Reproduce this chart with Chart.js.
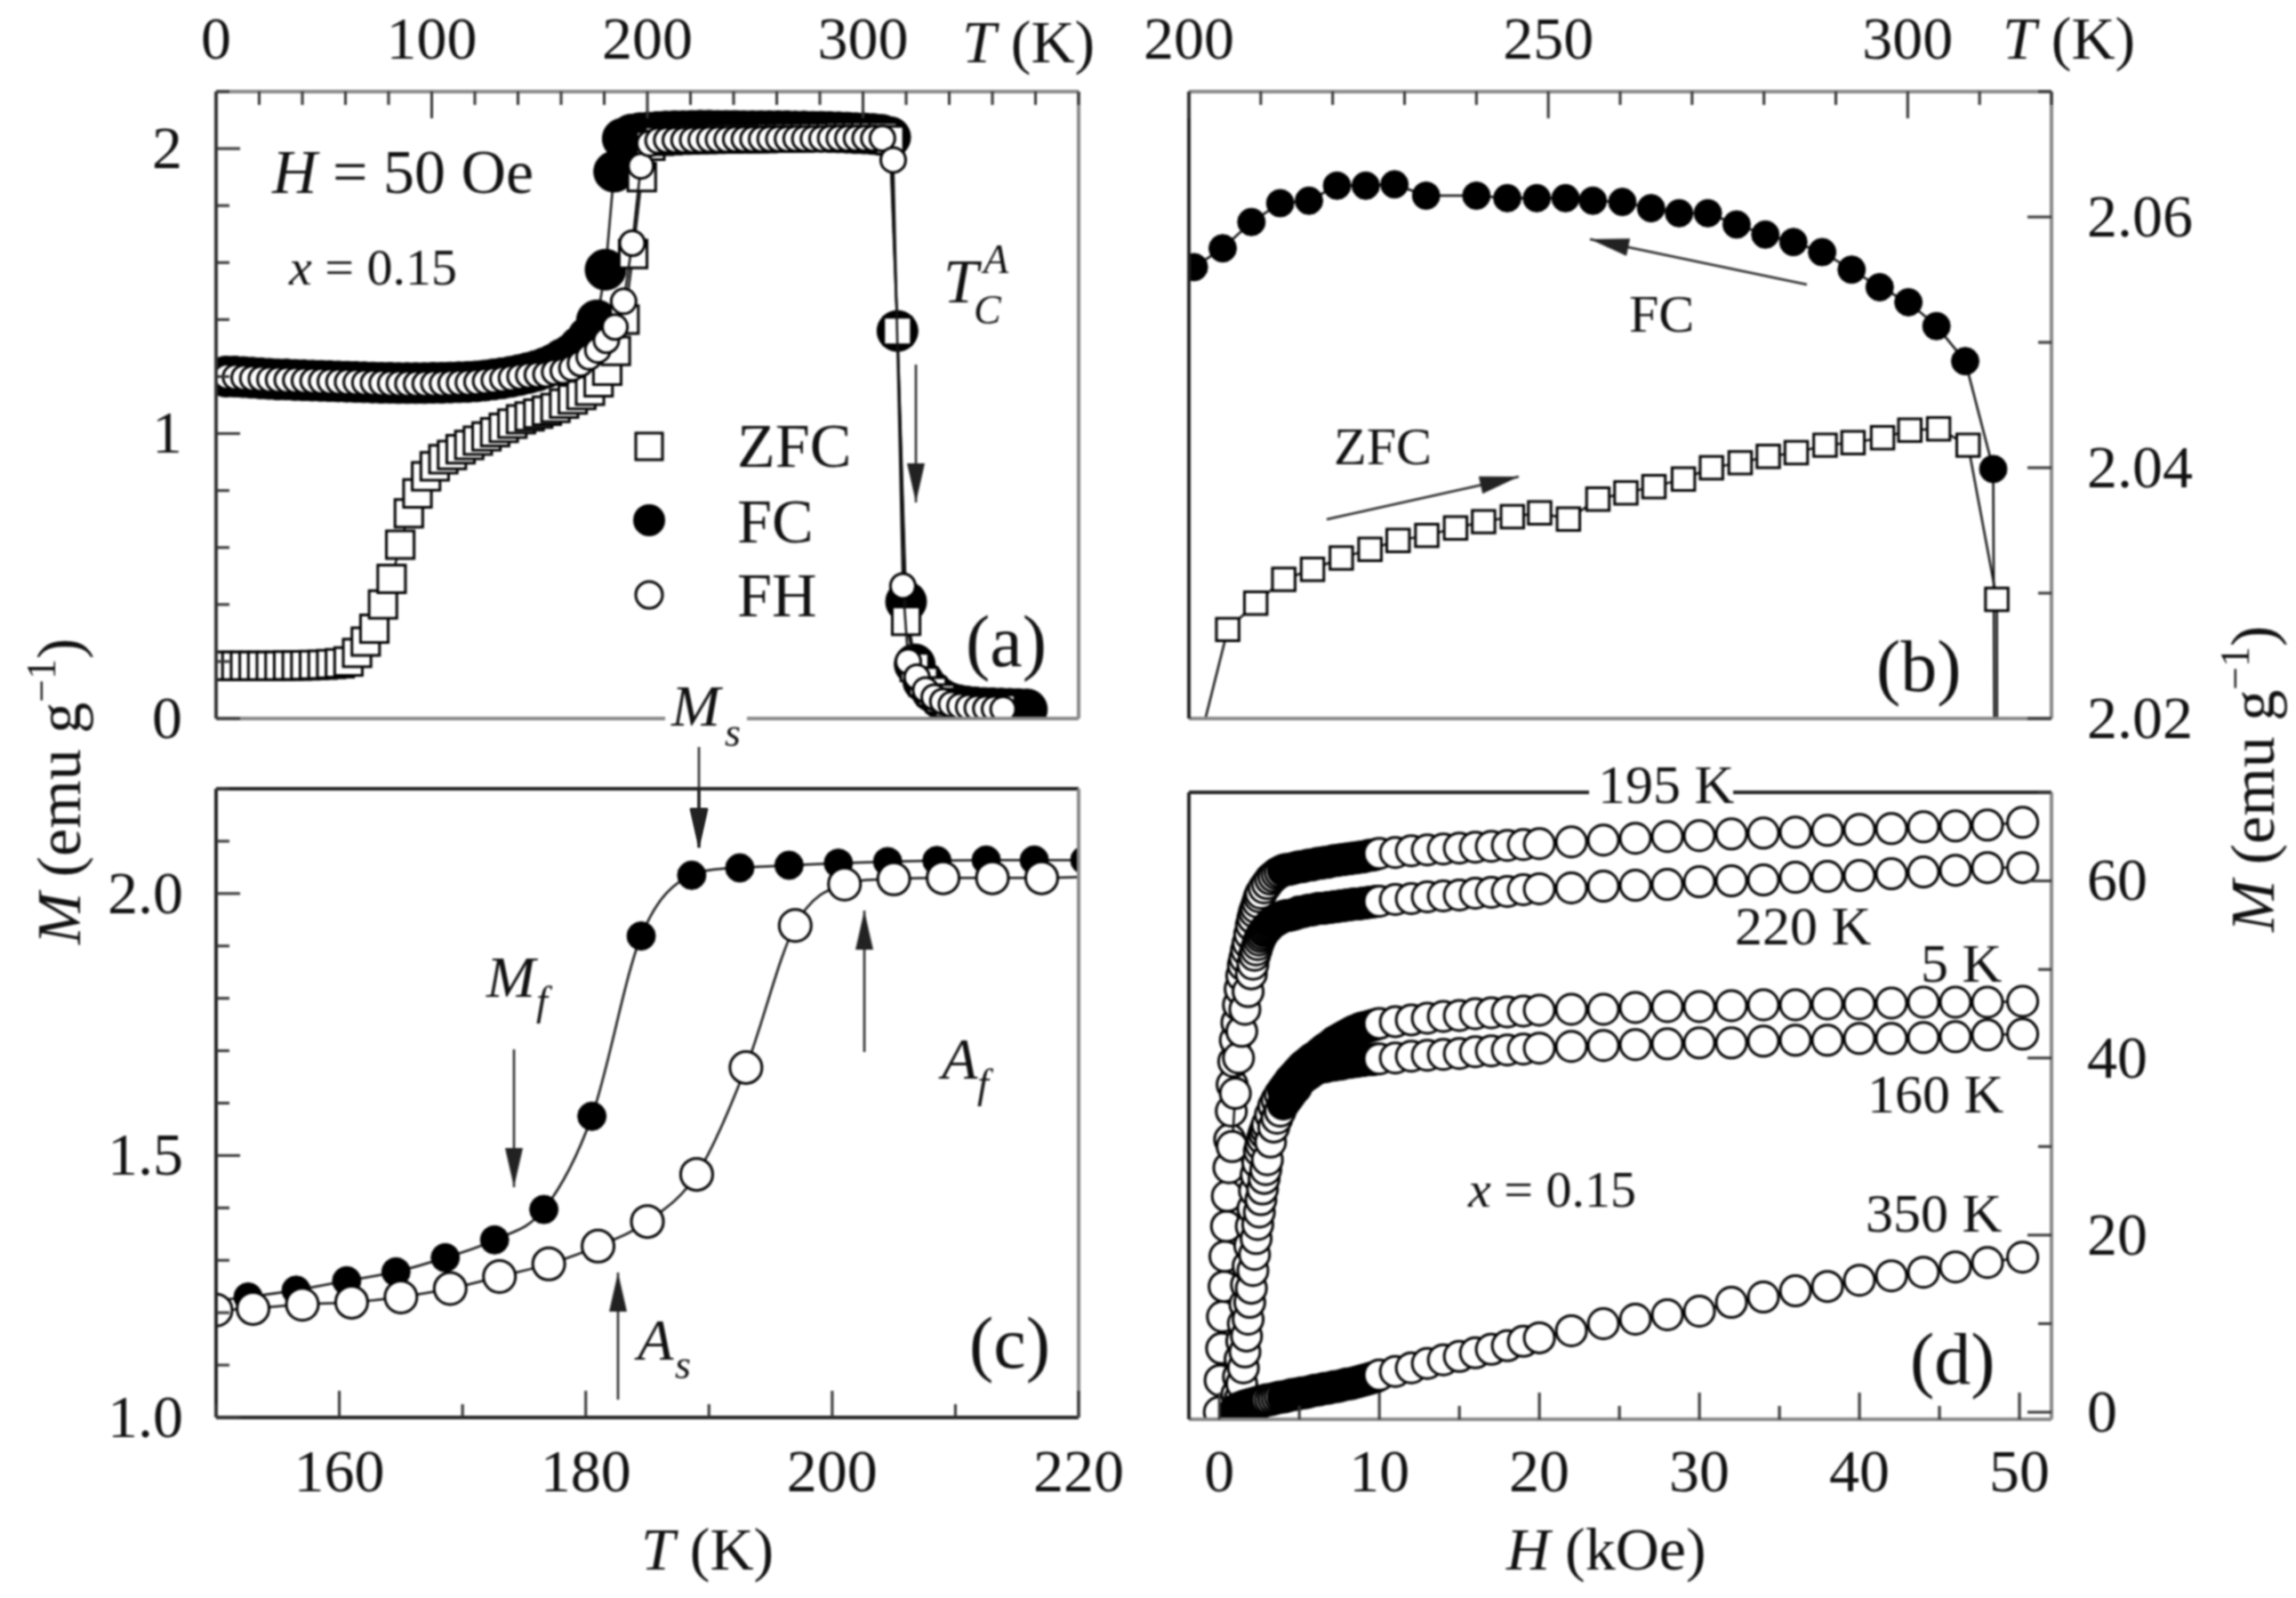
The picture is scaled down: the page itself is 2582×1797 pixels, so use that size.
<!DOCTYPE html>
<html>
<head>
<meta charset="utf-8">
<title>M(T) and M(H), x = 0.15</title>
<script src="https://cdn.jsdelivr.net/npm/chart.js@4/dist/chart.umd.min.js"></script>
<style>
  body { margin: 0; background: #fff; }
  canvas { position: absolute; left: 0; top: 0; filter: blur(1.2px); }
</style>
</head>
<body>
<canvas id="panelA" width="2582" height="1797"></canvas>
<canvas id="panelB" width="2582" height="1797"></canvas>
<canvas id="panelC" width="2582" height="1797"></canvas>
<canvas id="panelD" width="2582" height="1797"></canvas>
<script>
// panel (a): whole temperature range
var aTempFC = [4.6,8.6,12.6,16.6,20.6,24.6,28.6,32.6,36.6,40.6,44.6,48.6,52.6,56.6,60.6,64.6,68.6,72.6,76.6,80.6,84.6,88.6,92.6,96.6,100.6,104.6,108.6,112.6,116.6,120.6,124.6,128.6,132.6,136.6,140.6,144.6,148.6,152.6,156.6,160.6,164.6,168.6,172.6,176.6,180.6,184.6,188.6,192.6,196.6,200.6,204.6,208.6,212.6,216.6,220.6,224.6,228.6,232.6,236.6,240.6,244.6,248.6,252.6,256.6,260.6,264.6,268.6,272.6,276.6,280.6,284.6,288.6,292.6,296.6,300.6,304.6,308.6,312.6,316,320,324,328,332,336,340,344,348,352,356,360,364,368,372,376];
var aFC = [1.2,1.2,1.198,1.196,1.194,1.192,1.19,1.19,1.188,1.187,1.186,1.185,1.184,1.183,1.182,1.181,1.18,1.179,1.178,1.178,1.177,1.177,1.177,1.177,1.178,1.178,1.179,1.18,1.181,1.183,1.186,1.19,1.194,1.199,1.205,1.212,1.22,1.23,1.243,1.261,1.278,1.305,1.339,1.397,1.575,1.919,2.035,2.049,2.054,2.056,2.058,2.06,2.061,2.061,2.062,2.063,2.063,2.062,2.062,2.062,2.061,2.061,2.061,2.061,2.061,2.061,2.06,2.06,2.059,2.059,2.058,2.057,2.056,2.054,2.053,2.051,2.048,2.04,1.36,0.41,0.19,0.13,0.095,0.07,0.055,0.047,0.042,0.039,0.037,0.036,0.035,0.034,0.033,0.032];
var aTempZFC = [1.4,5.4,9.4,13.4,17.4,21.4,25.4,29.4,33.4,37.4,41.4,45.4,49.4,53.4,57.4,61.4,65.4,69.4,73.4,77.4,81.4,85.4,89.4,93.4,97.4,101.4,105.4,109.4,113.4,117.4,121.4,125.4,129.4,133.4,137.4,141.4,145.4,149.4,153.4,157.4,161.4,165.4,169.4,173.4,177.4,181.4,185.4,189.4,193.4,197.4,201.4,205.4,209.4,213.4,217.4,221.4,225.4,229.4,233.4,237.4,241.4,245.4,249.4,253.4,257.4,261.4,265.4,269.4,273.4,277.4,281.4,285.4,289.4,293.4,297.4,301.4,305.4,309.4,312.4,316,320,324,328,332,336,340,344,348,352,356,360,364];
var aZFC = [0.185,0.185,0.185,0.185,0.185,0.185,0.185,0.185,0.186,0.186,0.187,0.188,0.189,0.191,0.194,0.2,0.23,0.27,0.315,0.4,0.49,0.61,0.72,0.79,0.85,0.885,0.91,0.925,0.945,0.96,0.975,0.99,1.005,1.02,1.035,1.05,1.06,1.07,1.08,1.09,1.105,1.12,1.135,1.15,1.18,1.22,1.29,1.4,1.63,1.9,2.01,2.027,2.029,2.031,2.032,2.033,2.033,2.034,2.035,2.035,2.036,2.036,2.036,2.036,2.038,2.038,2.039,2.039,2.04,2.041,2.041,2.041,2.042,2.042,2.042,2.043,2.043,2.042,2.03,1.36,0.343,0.18,0.13,0.095,0.07,0.055,0.047,0.042,0.038,0.036,0.035,0.034];
var aTempFH = [5,9,13,17,21,25,29,33,37,41,45,49,53,57,61,65,69,73,77,81,85,89,93,97,101,105,109,113,117,121,125,129,133,137,141,145,149,153,157,161,165,169,173,177,181,185,189,193,197,201,205,209,213,217,221,225,229,233,237,241,245,249,253,257,261,265,269,273,277,281,285,289,293,297,301,305,309,314,318.5,321,325,329,333,337,341,345,349,353,357,361,365];
var aFH = [1.2,1.198,1.196,1.194,1.192,1.19,1.189,1.188,1.187,1.186,1.185,1.184,1.183,1.182,1.181,1.18,1.179,1.178,1.177,1.176,1.176,1.175,1.175,1.175,1.176,1.176,1.177,1.178,1.179,1.181,1.184,1.187,1.191,1.195,1.2,1.204,1.206,1.208,1.216,1.22,1.23,1.246,1.269,1.293,1.327,1.374,1.464,1.668,1.939,2.018,2.028,2.03,2.03,2.03,2.031,2.031,2.032,2.032,2.032,2.033,2.033,2.033,2.033,2.034,2.034,2.034,2.035,2.035,2.035,2.035,2.036,2.036,2.036,2.036,2.036,2.036,2.036,1.96,0.465,0.2,0.145,0.1,0.075,0.06,0.05,0.044,0.04,0.037,0.035,0.034,0.033];

// panel (b): zoom on the plateau
var bTempFC = [200.7,204.7,208.7,212.7,216.7,220.6,224.6,228.6,233,240,244.3,248.4,252.4,256.2,260.3,264.3,268.2,272.2,276.2,280.2,284.1,288.1,292.2,296.1,300.1,304,308,311.9,312.2];
var bFC = [2.056,2.0575,2.0596,2.0611,2.0613,2.0625,2.0625,2.0626,2.0617,2.0617,2.0615,2.0615,2.0615,2.0613,2.0612,2.0607,2.0603,2.0603,2.0594,2.0586,2.058,2.0572,2.0558,2.0544,2.0532,2.0513,2.0485,2.0399,2];
var bTempZFC = [198.8,205.4,209.3,213.2,217.2,221.2,225.2,229.1,233.1,237.1,241,245,248.8,252.8,256.9,260.8,264.7,268.8,272.7,276.7,280.6,284.5,288.5,292.4,296.5,300.3,304.3,308.4,312.4,312.5];
var bZFC = [2.012,2.0271,2.0292,2.0311,2.0319,2.0328,2.0335,2.0342,2.0346,2.0352,2.0357,2.0361,2.0364,2.0359,2.0375,2.038,2.0385,2.0391,2.04,2.0404,2.0409,2.0412,2.0418,2.042,2.0424,2.043,2.0431,2.0418,2.0295,2];

// panel (c): zoom on the martensitic transition
var cTempFC = [148.6,152.6,156.5,160.6,164.6,168.6,172.6,176.6,180.5,184.5,188.6,192.5,196.5,200.5,204.5,208.5,212.5,216.4,220.5];
var cFC = [1.22,1.23,1.243,1.261,1.278,1.305,1.339,1.397,1.575,1.919,2.035,2.049,2.054,2.058,2.061,2.063,2.064,2.064,2.064];
var cTempFH = [150,153,157,161,165,169,173,177,181,185,189,193,197,201,205,209,213,217,222];
var cFH = [1.205,1.208,1.216,1.22,1.23,1.246,1.269,1.293,1.327,1.374,1.464,1.668,1.939,2.018,2.028,2.03,2.03,2.03,2.033];

// panel (d): M(H) curves
var hHigh = [10,11,12,13,14,15,16,17,18,19,20,22,24,26,28,30,32,34,36,38,40,42,44,46,48,50.2];
var hBand = [4,4.2,4.4,4.6,4.8,5,5.2,5.4,5.6,5.8,6,6.2,6.4,6.6,6.8,7,7.2,7.4,7.6,7.8,8,8.2,8.4,8.6,8.8,9,9.2,9.4,9.6,9.8];
var hRise195 = [0,0.05,0.15,0.2,0.3,0.35,0.45,0.5,0.6,0.65,0.75,0.8,0.9,1,1.1,1.2,1.3,1.4,1.5,1.6,1.7,1.8,1.9,2,2.1,2.2,2.3,2.4,2.5,2.6,2.8,3,3.2,3.4,3.6,3.8];
var m195Rise = [0,3.6,7.2,10.8,14.2,17.6,21,24.4,27.6,30.8,34,37,39.6,42,44,46,47.8,49.3,50.5,51.3,52.2,53,54,55,55.8,56.5,57,57.6,58.2,58.6,59.2,59.7,60.2,60.5,60.8,61];
var m195Band = [61.2,61.3,61.3,61.4,61.5,61.6,61.6,61.7,61.8,61.8,61.9,62,62,62.1,62.1,62.2,62.3,62.3,62.4,62.4,62.5,62.5,62.6,62.6,62.7,62.7,62.8,62.9,62.9,63];
var m195High = [63.1,63.2,63.4,63.5,63.6,63.7,63.8,63.9,64,64.1,64.2,64.4,64.6,64.8,65,65.1,65.3,65.4,65.5,65.7,65.8,65.9,66.1,66.2,66.3,66.6];
var hRise220 = [0.8,1,1.2,1.4,1.6,1.8,2,2.1,2.2,2.3,2.4,2.5,2.6,2.7,2.8,2.9,3,3.1,3.2,3.3,3.4,3.5,3.6,3.7,3.8,3.9];
var m220Rise = [30,36,40,43,45.5,47.5,49.5,50.6,51.6,52.2,52.8,53.3,53.7,54,54.3,54.5,54.7,54.9,55.1,55.3,55.4,55.5,55.6,55.7,55.8,55.9];
var m220Band = [56,56.1,56.1,56.2,56.3,56.5,56.5,56.6,56.7,56.7,56.8,56.9,56.9,56.9,57,57,57.1,57.1,57.2,57.2,57.3,57.3,57.4,57.4,57.4,57.5,57.5,57.6,57.6,57.7];
var m220High = [57.7,57.9,58,58.2,58.3,58.4,58.6,58.7,58.8,59,59.1,59.2,59.4,59.5,59.6,59.9,60,60.1,60.4,60.5,60.6,60.8,61,61.2,61.5,61.5];
var hRiseLow = [1,1.1,1.2,1.3,1.4,1.5,1.6,1.7,1.8,1.9,2,2.1,2.2,2.3,2.4,2.5,2.6,2.7,2.8,2.9,3,3.2,3.4,3.6,3.8];
var m5Rise = [0,2,4,6,8,10,12.2,14.4,16.5,18.8,21,23,25,26.8,28.2,29.5,30.2,30.9,31.5,32,32.5,33.6,34.6,35.3,35.9];
var m5Band = [36.4,36.9,37.4,37.8,38.2,38.6,39,39.3,39.6,39.9,40.1,40.4,40.7,41,41.2,41.5,41.8,42,42.2,42.4,42.6,42.8,43,43.1,43.3,43.4,43.5,43.6,43.7,43.8];
var m5High = [43.9,44.1,44.3,44.5,44.7,44.8,45,45.1,45.2,45.3,45.4,45.5,45.5,45.7,45.8,45.8,45.9,46,46,46.1,46.1,46.2,46.3,46.3,46.3,46.4];
var m160Rise = [0,0,0,1.5,3.2,5,6.8,8.6,10.5,12.4,14,16,17.8,19.6,21.2,22.6,24,25.2,26.4,27.4,28.5,30.5,32.2,33.2,34];
var m160Band = [34.8,35.3,35.8,36.3,36.7,37.5,37.7,38,38.2,38.5,38.7,38.9,39,39,39.1,39.2,39.2,39.3,39.3,39.4,39.5,39.5,39.6,39.6,39.7,39.7,39.8,39.8,39.8,39.9];
var m160High = [39.9,40,40.2,40.3,40.4,40.5,40.7,40.8,40.9,41,41.1,41.3,41.4,41.5,41.6,41.7,41.7,41.9,42,42,42.2,42.2,42.3,42.4,42.6,42.7];
var m350Rise = [0.2,0.3,0.4,0.5,0.5,0.6,0.7,0.7,0.8,0.8,0.9,0.9,1,1,1.1,1.1,1.2,1.2,1.3,1.3,1.4,1.4,1.5,1.6,1.7];
var m350Band = [1.7,1.8,1.9,2,2,2.1,2.2,2.2,2.3,2.4,2.5,2.5,2.6,2.7,2.7,2.8,2.9,2.9,3,3.1,3.2,3.2,3.3,3.4,3.5,3.6,3.7,3.8,3.9,4];
var m350High = [4.2,4.6,5,5.5,5.9,6.3,6.7,7.1,7.5,8,8.4,9.2,10,10.5,11,11.4,12.4,13,13.7,14.2,14.9,15.4,15.8,16.4,16.9,17.5];

// tick labels
var aTempLabels = ['0','100','200','300'];
var aMLabels = ['0','1','2'];
var bTempLabels = ['200','250','300'];
var bMLabels = ['2.02','2.04','2.06'];
var cTempLabels = ['160','180','200','220'];
var cMLabels = ['1.0','1.5','2.0'];
var dFieldLabels = ['0','10','20','30','40','50'];
var dMLabels = ['0','20','40','60'];

var SERIF = '"Liberation Serif"';
var INK = '#111';
var AXIS_H = 100, AXIS_W = 200; // room kept for tick labels, they get clipped to the scale box

function pairs(xs, ys) {
    return xs.map(function (x, i) { return { x: x, y: ys[i] }; });
}

function axis(pos, min, max, step, labels, pad) {
    var vertical = pos === 'left' || pos === 'right';
    return {
        type: 'linear', position: pos, min: min, max: max,
        grid: { display: false }, border: { display: false },
        ticks: {
            stepSize: step, autoSkip: false, maxRotation: 0, includeBounds: false,
            padding: pad, labelOffset: vertical ? 4 : 0,
            color: INK, font: { family: SERIF, size: 68 },
            callback: function (v) {
                var hit = labels.filter(function (l) { return Math.abs(parseFloat(l) - v) < 1e-6; });
                return hit.length ? hit[0] : '';
            }
        },
        afterFit: function (s) {
            if (vertical) s.width = AXIS_W; else s.height = AXIS_H;
        }
    };
}

function series(data, style, r, lw, smooth) {
    return {
        data: data, showLine: true, borderColor: INK, borderWidth: 2.5,
        cubicInterpolationMode: smooth ? 'monotone' : 'default',
        pointStyle: style === 'square' ? 'rect' : 'circle', pointRadius: r,
        pointBorderColor: '#000', pointBorderWidth: lw,
        pointBackgroundColor: style === 'dot' ? '#000' : '#fff'
    };
}

// runs: [[text, italic, size, rise], ...]
function textRuns(ctx, x, y, runs, rot) {
    ctx.save();
    ctx.translate(x, y);
    if (rot) ctx.rotate(rot);
    ctx.fillStyle = INK;
    ctx.textAlign = 'left';
    ctx.textBaseline = 'alphabetic';
    var cx = 0;
    runs.forEach(function (r) {
        ctx.font = (r[1] ? 'italic ' : '') + r[2] + 'px ' + SERIF;
        ctx.fillText(r[0], cx, -(r[3] || 0));
        cx += ctx.measureText(r[0]).width;
    });
    ctx.restore();
}

function arrow(ctx, x1, y1, x2, y2) {
    var a = Math.atan2(y2 - y1, x2 - x1), len = 44, half = 10;
    ctx.save();
    ctx.strokeStyle = ctx.fillStyle = '#222';
    ctx.lineWidth = 2.5;
    ctx.beginPath();
    ctx.moveTo(x1, y1);
    ctx.lineTo(x2, y2);
    ctx.stroke();
    ctx.beginPath();
    ctx.moveTo(x2, y2);
    ctx.lineTo(x2 - len * Math.cos(a) - half * Math.sin(a), y2 - len * Math.sin(a) + half * Math.cos(a));
    ctx.lineTo(x2 - len * Math.cos(a) + half * Math.sin(a), y2 - len * Math.sin(a) - half * Math.cos(a));
    ctx.closePath();
    ctx.fill();
    ctx.restore();
}

// frame and inward ticks, tick positions come from the scales
function framePlugin(sc, notes) {
    return {
        id: 'frame',
        afterDatasetsDraw: function (chart) {
            var ctx = chart.ctx, area = chart.chartArea;
            var side = function (c, x1, y1, x2, y2) {
                ctx.strokeStyle = c;
                ctx.lineWidth = 4;
                ctx.beginPath();
                ctx.moveTo(x1, y1);
                ctx.lineTo(x2, y2);
                ctx.stroke();
            };
            side(sc.top, area.left, area.top, area.right, area.top);
            side(sc.bottom, area.left, area.bottom, area.right, area.bottom);
            side(sc.right, area.right, area.top, area.right, area.bottom);
            side(sc.left, area.left, area.top, area.left, area.bottom);
            ctx.strokeStyle = '#333';
            ctx.lineWidth = 3;
            chart.scales.x.ticks.forEach(function (t) {
                var x = chart.scales.x.getPixelForValue(t.value), l = t.label ? 30 : 15;
                var y0 = chart.scales.x.position === 'top' ? area.top : area.bottom;
                var dir = chart.scales.x.position === 'top' ? 1 : -1;
                ctx.beginPath();
                ctx.moveTo(x, y0);
                ctx.lineTo(x, y0 + dir * l);
                ctx.stroke();
            });
            chart.scales.y.ticks.forEach(function (t) {
                var y = chart.scales.y.getPixelForValue(t.value), l = t.label ? 27 : 15;
                var x0 = chart.scales.y.position === 'left' ? area.left : area.right;
                var dir = chart.scales.y.position === 'left' ? 1 : -1;
                ctx.beginPath();
                ctx.moveTo(x0, y);
                ctx.lineTo(x0 + dir * l, y);
                ctx.stroke();
            });
            notes(ctx);
        }
    };
}

function panel(id, box, x, y, datasets, sideColors, notes) {
    var pad = { left: box[0], top: box[1], right: 2582 - box[2], bottom: 1797 - box[3] };
    pad[x.position] -= AXIS_H;
    pad[y.position] -= AXIS_W;
    return new Chart(document.getElementById(id), {
        type: 'scatter',
        data: { datasets: datasets },
        options: {
            responsive: false, animation: false, devicePixelRatio: 1,
            layout: { autoPadding: false, padding: pad },
            scales: { x: x, y: y },
            plugins: { legend: { display: false }, tooltip: { enabled: false } }
        },
        plugins: [framePlugin(sideColors, notes)]
    });
}

// the first dataset ends up on top
panel('panelA', [243, 103, 1213, 808],
    axis('top', 0, 400, 20, aTempLabels, 6),
    axis('left', 0, 2.2, 0.2, aMLabels, 30),
    [
        series(pairs(aTempFH, aFH), 'ring', 14, 3),
        series(pairs(aTempZFC, aZFC), 'square', 22, 3),
        series(pairs(aTempFC, aFC), 'dot', 23, 1)
    ],
    { top: '#888', bottom: '#888', right: '#888', left: '#333' },
    function (ctx) {
        textRuns(ctx, 306, 217, [['H', true, 70], [' = 50 Oe', false, 70]]);
        textRuns(ctx, 325, 320, [['x', true, 58], [' = 0.15', false, 58]]);
        textRuns(ctx, 1061, 340, [['T', true, 70]]);
        textRuns(ctx, 1095, 364, [['C', true, 46]]);
        textRuns(ctx, 1106, 307, [['A', true, 46]]);
        arrow(ctx, 1030, 410, 1030, 565);

        ctx.fillStyle = '#fff';
        ctx.strokeStyle = '#000';
        ctx.lineWidth = 3;
        ctx.beginPath();
        ctx.rect(715, 487, 30, 30);
        ctx.fill();
        ctx.stroke();
        ctx.fillStyle = '#000';
        ctx.beginPath();
        ctx.arc(730, 585, 18, 0, 2 * Math.PI);
        ctx.fill();
        ctx.fillStyle = '#fff';
        ctx.beginPath();
        ctx.arc(730, 669, 15, 0, 2 * Math.PI);
        ctx.fill();
        ctx.stroke();
        textRuns(ctx, 829, 525, [['ZFC', false, 70]]);
        textRuns(ctx, 829, 610, [['FC', false, 70]]);
        textRuns(ctx, 829, 693, [['FH', false, 70]]);
        textRuns(ctx, 1086, 749, [['(a)', false, 82]]);

        ctx.fillStyle = '#fff';
        ctx.fillRect(748, 800, 92, 16);
        textRuns(ctx, 755, 816, [['M', true, 66]]);
        textRuns(ctx, 815, 839, [['s', true, 46]]);
        arrow(ctx, 786, 840, 786, 953);

        textRuns(ctx, 1082, 70, [['T', true, 68], [' (K)', false, 68]]);
        textRuns(ctx, 90, 1062, [['M', true, 70], [' (emu g', false, 70], ['\u22121', false, 46, 28], [')', false, 70]], -Math.PI / 2);
    });

panel('panelB', [1337, 103, 2307, 808],
    axis('top', 200, 320, 10, bTempLabels, 6),
    axis('right', 2.02, 2.07, 0.01, bMLabels, 32),
    [
        series(pairs(bTempZFC, bZFC), 'square', 18, 3),
        series(pairs(bTempFC, bFC), 'dot', 15.5, 1)
    ],
    { top: '#888', bottom: '#888', right: '#888', left: '#222' },
    function (ctx) {
        arrow(ctx, 2032, 320, 1788, 269);
        textRuns(ctx, 1832, 373, [['FC', false, 60]]);
        textRuns(ctx, 1500, 522, [['ZFC', false, 60]]);
        arrow(ctx, 1492, 584, 1708, 536);
        textRuns(ctx, 2110, 777, [['(b)', false, 82]]);
        textRuns(ctx, 2252, 66, [['T', true, 68], [' (K)', false, 68]]);
        textRuns(ctx, 2557, 1048, [['M', true, 70], [' (emu g', false, 70], ['\u22121', false, 46, 28], [')', false, 70]], -Math.PI / 2);
    });

panel('panelC', [243, 887, 1213, 1594],
    axis('bottom', 150, 220, 10, cTempLabels, 16),
    axis('left', 1, 2.2, 0.1, cMLabels, 29),
    [
        series(pairs(cTempFH, cFH), 'ring', 18, 3, true),
        series(pairs(cTempFC, cFC), 'dot', 16, 1, true)
    ],
    { top: '#222', bottom: '#222', right: '#888', left: '#222' },
    function (ctx) {
        arrow(ctx, 786, 887, 786, 953);
        textRuns(ctx, 547, 1121, [['M', true, 66]]);
        textRuns(ctx, 603, 1141, [['f', true, 46]]);
        arrow(ctx, 578, 1180, 578, 1335);
        arrow(ctx, 972, 1183, 972, 1024);
        textRuns(ctx, 1059, 1213, [['A', true, 66]]);
        textRuns(ctx, 1099, 1234, [['f', true, 46]]);
        arrow(ctx, 695, 1574, 695, 1431);
        textRuns(ctx, 717, 1529, [['A', true, 66]]);
        textRuns(ctx, 759, 1550, [['s', true, 46]]);
        textRuns(ctx, 1090, 1538, [['(c)', false, 82]]);
        textRuns(ctx, 721, 1765, [['T', true, 68], [' (K)', false, 68]]);
    });

// rings pile up to a solid band below 10 kOe
function curve(hRise, mRise, mBand, mHigh) {
    var ds = series(pairs(hRise.concat(hBand, hHigh), mRise.concat(mBand, mHigh)), 'ring', 17, 3);
    ds.pointBackgroundColor = hRise.map(function () { return '#fff'; })
        .concat(hBand.map(function () { return '#000'; }), hHigh.map(function () { return '#fff'; }));
    return ds;
}

panel('panelD', [1337, 891, 2307, 1596],
    axis('bottom', -1.9, 52, 5, dFieldLabels, 14),
    axis('right', -0.8, 70, 10, dMLabels, 32),
    [
        curve(hRiseLow, m350Rise, m350Band, m350High),
        curve(hRiseLow, m160Rise, m160Band, m160High),
        curve(hRiseLow, m5Rise, m5Band, m5High),
        curve(hRise220, m220Rise, m220Band, m220High),
        curve(hRise195, m195Rise, m195Band, m195High)
    ],
    { top: '#222', bottom: '#888', right: '#888', left: '#222' },
    function (ctx) {
        ctx.fillStyle = '#fff';
        ctx.fillRect(1787, 880, 162, 30);
        textRuns(ctx, 1797, 903, [['195 K', false, 62]]);
        textRuns(ctx, 1951, 1062, [['220 K', false, 62]]);
        textRuns(ctx, 2160, 1104, [['5 K', false, 62]]);
        textRuns(ctx, 2100, 1251, [['160 K', false, 62]]);
        textRuns(ctx, 2098, 1385, [['350 K', false, 62]]);
        textRuns(ctx, 1651, 1357, [['x', true, 58], [' = 0.15', false, 58]]);
        textRuns(ctx, 2148, 1556, [['(d)', false, 82]]);
        textRuns(ctx, 1694, 1765, [['H', true, 68], [' (kOe)', false, 68]]);
    });
</script>
</body>
</html>
